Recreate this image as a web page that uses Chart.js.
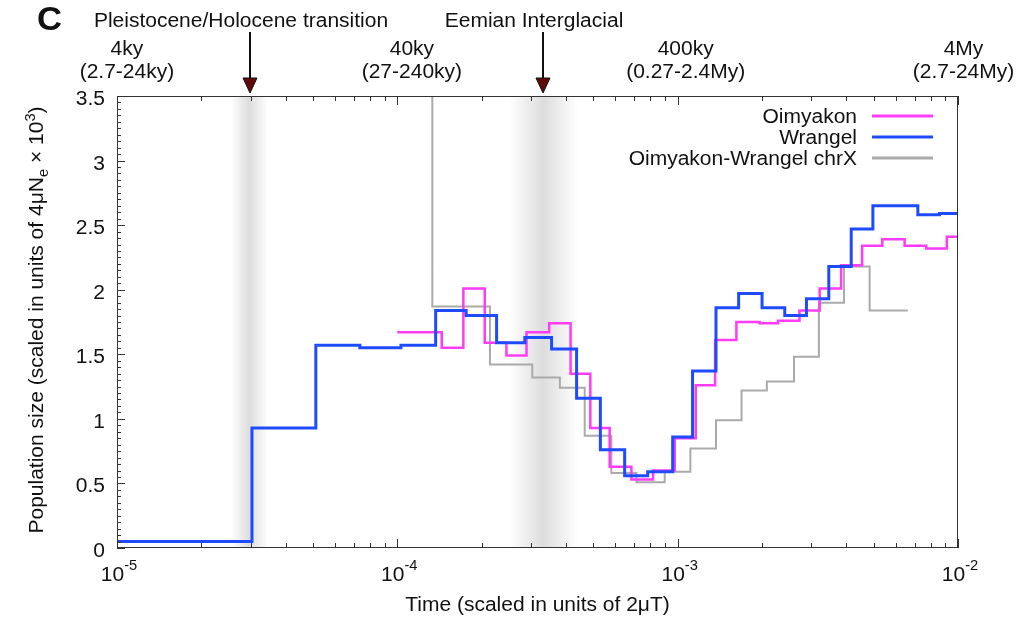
<!DOCTYPE html>
<html>
<head>
<meta charset="utf-8">
<script src="https://cdn.jsdelivr.net/npm/chart.js@4.4.0/dist/chart.umd.min.js"></script>
<style>
  html, body { margin: 0; padding: 0; background: #fff; }
</style>
</head>
<body>
<canvas id="myChart" width="1031" height="620"></canvas>
<script>
    // time (scaled in units of 2uT) where each step starts, and population size
    var wrangelT = [1e-5, 3.03e-5, 5.12e-5, 7.35e-5, 1.03e-4, 1.37e-4, 1.76e-4, 2.26e-4, 2.85e-4, 3.55e-4, 4.36e-4,
                    5.30e-4, 6.47e-4, 7.82e-4, 9.60e-4, 1.13e-3, 1.37e-3, 1.65e-3, 2.00e-3, 2.41e-3, 2.88e-3,
                    3.46e-3, 4.16e-3, 4.97e-3, 7.19e-3, 8.59e-3, 1e-2];
    var wrangelN = [0.05, 0.93, 1.57, 1.55, 1.57, 1.84, 1.80, 1.59, 1.63, 1.54, 1.16,
                    0.76, 0.56, 0.59, 0.86, 1.37, 1.86, 1.97, 1.86, 1.80, 1.93,
                    2.18, 2.47, 2.65, 2.58, 2.59, 2.59];

    var oimyakonT = [1e-4, 1.44e-4, 1.72e-4, 2.05e-4, 2.45e-4, 2.89e-4, 3.48e-4, 4.15e-4, 4.88e-4, 5.72e-4,
                     6.84e-4, 8.17e-4, 9.76e-4, 1.16e-3, 1.36e-3, 1.62e-3, 1.96e-3, 2.28e-3, 2.72e-3, 3.21e-3,
                     3.83e-3, 4.55e-3, 5.37e-3, 6.45e-3, 7.70e-3, 9.12e-3, 1e-2];
    var oimyakonN = [1.67, 1.55, 2.01, 1.59, 1.49, 1.67, 1.74, 1.35, 0.93, 0.63,
                     0.53, 0.60, 0.85, 1.26, 1.61, 1.75, 1.74, 1.76, 1.84, 2.01,
                     2.19, 2.34, 2.39, 2.34, 2.32, 2.41, 2.41];

    var chrXT = [1.2e-4, 1.333e-4, 2.14e-4, 3.03e-4, 3.80e-4, 4.66e-4, 5.80e-4, 7.13e-4, 8.99e-4, 1.11e-3,
                 1.37e-3, 1.69e-3, 2.08e-3, 2.60e-3, 3.19e-3, 3.92e-3, 4.84e-3, 6.62e-3];
    var chrXN = [4.5, 1.87, 1.42, 1.32, 1.24, 0.87, 0.58, 0.51, 0.59, 0.77,
                 0.99, 1.22, 1.29, 1.48, 1.90, 2.18, 1.84, 1.84];

    var seriesNames = ['Oimyakon', 'Wrangel', 'Oimyakon-Wrangel chrX'];
    var seriesColors = ['#ff3cf5', '#1f4bff', '#aaaaaa'];

    var decades = [1e-5, 1e-4, 1e-3, 1e-2];
    var decadeExp = ['-5', '-4', '-3', '-2'];
    var yTicks = [0, 0.5, 1, 1.5, 2, 2.5, 3, 3.5];

    var topLabels = [['4ky', '(2.7-24ky)'], ['40ky', '(27-240ky)'], ['400ky', '(0.27-2.4My)'], ['4My', '(2.7-24My)']];
    var topLabelT = [1.085e-5, 1.127e-4, 1.068e-3, 1.046e-2];

    var events = ['Pleistocene/Holocene transition', 'Eemian Interglacial'];
    var eventT = [2.97e-5, 3.3e-4];
    var bandFrom = [2.55e-5, 2.5e-4];
    var bandTo = [3.45e-5, 4.4e-4];

    function toPoints(t, n) {
        var pts = [];
        for (var i = 0; i < t.length; i++) pts.push({x: t[i], y: n[i]});
        return pts;
    }

    var FONT = '"Liberation Sans", Arial, sans-serif';
    var HS = 1.05; // slight horizontal stretch of the text, like the original

    function txt(ctx, s, x, y, size, align, bold) {
        ctx.save();
        ctx.font = (bold ? 'bold ' : '') + size + 'px ' + FONT;
        ctx.translate(x, y);
        ctx.scale(HS, 1);
        ctx.textAlign = align;
        ctx.fillText(s, 0, 0);
        ctx.restore();
    }
    function txtW(ctx, s, size) {
        ctx.font = size + 'px ' + FONT;
        return ctx.measureText(s).width * HS;
    }

    var extras = {
        id: 'extras',
        beforeDatasetsDraw: function(chart) {
            var ctx = chart.ctx, a = chart.chartArea, sx = chart.scales.x;
            ctx.save();
            for (var i = 0; i < bandFrom.length; i++) {
                var x0 = sx.getPixelForValue(bandFrom[i]);
                var x1 = sx.getPixelForValue(bandTo[i]);
                var g = ctx.createLinearGradient(x0, 0, x1, 0);
                g.addColorStop(0, 'rgba(215,215,215,0)');
                g.addColorStop(0.5, 'rgba(215,215,215,0.85)');
                g.addColorStop(1, 'rgba(215,215,215,0)');
                ctx.fillStyle = g;
                ctx.fillRect(x0, a.top, x1 - x0, a.bottom - a.top);
            }
            ctx.restore();
        },
        afterDraw: function(chart) {
            var ctx = chart.ctx, a = chart.chartArea, sx = chart.scales.x, sy = chart.scales.y;
            ctx.save();
            // frame
            ctx.strokeStyle = '#333';
            ctx.lineWidth = 1;
            ctx.strokeRect(a.left + 0.5, a.top + 0.5, a.right - a.left - 1, a.bottom - a.top - 1);

            // y ticks (inward)
            ctx.beginPath();
            for (var k = 0; k <= 70; k++) {
                var v = k * 0.05;
                var py = Math.round(sy.getPixelForValue(v)) + 0.5;
                var len = (k % 10 === 0) ? 8 : 4;
                ctx.moveTo(a.left, py);
                ctx.lineTo(a.left + len, py);
            }
            // x ticks (bottom and top, inward)
            for (var d = 0; d < 3; d++) {
                for (var m = 1; m <= 10; m++) {
                    var px = Math.round(sx.getPixelForValue(decades[d] * m)) + 0.5;
                    var l2 = (m === 1 || m === 10) ? 9 : 5;
                    ctx.moveTo(px, a.bottom);
                    ctx.lineTo(px, a.bottom - l2);
                    ctx.moveTo(px, a.top);
                    ctx.lineTo(px, a.top + l2);
                }
            }
            ctx.stroke();

            ctx.fillStyle = '#111';
            ctx.textBaseline = 'alphabetic';
            // y tick labels
            yTicks.forEach(function(v) {
                txt(ctx, String(v), a.left - 12, sy.getPixelForValue(v) + 9, 20, 'right');
            });

            // x tick labels 10^n
            decades.forEach(function(t, i) {
                var w1 = txtW(ctx, '10', 20);
                var w2 = txtW(ctx, decadeExp[i], 14);
                var x0 = sx.getPixelForValue(t) - (w1 + w2) / 2 + 2;
                txt(ctx, '10', x0, 581, 20, 'left');
                txt(ctx, decadeExp[i], x0 + w1, 570, 14, 'left');
            });

            // axis titles
            txt(ctx, 'Time (scaled in units of 2\u03bcT)', (a.left + a.right) / 2, 611, 20, 'center');

            ctx.save();
            ctx.translate(43, 320);
            ctx.rotate(-Math.PI / 2);
            var parts = [['Population size (scaled in units of 4\u03bcN', 20, 0],
                         ['e', 14, 5], [' \u00d7 10', 20, 0], ['3', 14, -8], [')', 20, 0]];
            var total = 0;
            parts.forEach(function(p) { total += txtW(ctx, p[0], p[1]); });
            var cx = -total / 2;
            parts.forEach(function(p) {
                txt(ctx, p[0], cx, p[2], p[1], 'left');
                cx += txtW(ctx, p[0], p[1]);
            });
            ctx.restore();

            // panel letter
            txt(ctx, 'C', 37, 30, 33, 'left', true);

            // top time labels
            topLabels.forEach(function(lab, i) {
                var px = sx.getPixelForValue(topLabelT[i]);
                txt(ctx, lab[0], px, 55, 20, 'center');
                txt(ctx, lab[1], px, 78, 20, 'center');
            });

            // events with arrows
            events.forEach(function(name, i) {
                var px = Math.round(sx.getPixelForValue(eventT[i]));
                ctx.fillStyle = '#111';
                txt(ctx, name, px - 9, 27, 20, 'center');
                ctx.strokeStyle = '#111';
                ctx.lineWidth = 2;
                ctx.beginPath();
                ctx.moveTo(px, 32);
                ctx.lineTo(px, 80);
                ctx.stroke();
                ctx.beginPath();
                ctx.moveTo(px - 7, 78);
                ctx.lineTo(px + 7, 78);
                ctx.lineTo(px, 93);
                ctx.closePath();
                ctx.fillStyle = '#600a0a';
                ctx.fill();
                ctx.lineWidth = 1;
                ctx.stroke();
            });

            // legend (text right aligned, sample on the right)
            seriesNames.forEach(function(name, i) {
                var yy = 116 + i * 21;
                ctx.fillStyle = '#111';
                txt(ctx, name, 857, yy + 7, 20, 'right');
                ctx.strokeStyle = seriesColors[i];
                ctx.lineWidth = 3;
                ctx.beginPath();
                ctx.moveTo(872, yy);
                ctx.lineTo(933, yy);
                ctx.stroke();
            });
            ctx.restore();
        }
    };

    var ctx = document.getElementById('myChart').getContext('2d');
    var chart = new Chart(ctx, {
        type: 'line',
        data: {
            datasets: [{
                label: seriesNames[1],
                data: toPoints(wrangelT, wrangelN),
                borderColor: seriesColors[1],
                borderWidth: 3,
                order: 1
            }, {
                label: seriesNames[0],
                data: toPoints(oimyakonT, oimyakonN),
                borderColor: seriesColors[0],
                borderWidth: 2.5,
                order: 2
            }, {
                label: seriesNames[2],
                data: toPoints(chrXT, chrXN),
                borderColor: seriesColors[2],
                borderWidth: 2,
                order: 3
            }]
        },
        options: {
            responsive: false,
            animation: false,
            devicePixelRatio: 1,
            datasets: {
                line: { stepped: 'before', pointRadius: 0, fill: false, clip: 0 }
            },
            layout: { padding: { top: 96, right: 73, left: 0, bottom: 0 } },
            plugins: {
                legend: { display: false },
                tooltip: { enabled: false }
            },
            scales: {
                x: {
                    type: 'logarithmic',
                    min: 1e-5,
                    max: 1e-2,
                    grid: { display: false },
                    border: { display: false },
                    ticks: { display: false },
                    afterFit: function(s) { s.height = 72; }
                },
                y: {
                    min: 0,
                    max: 3.5,
                    grid: { display: false },
                    border: { display: false },
                    ticks: { display: false },
                    afterFit: function(s) { s.width = 117; }
                }
            }
        },
        plugins: [extras]
    });
</script>
</body>
</html>
